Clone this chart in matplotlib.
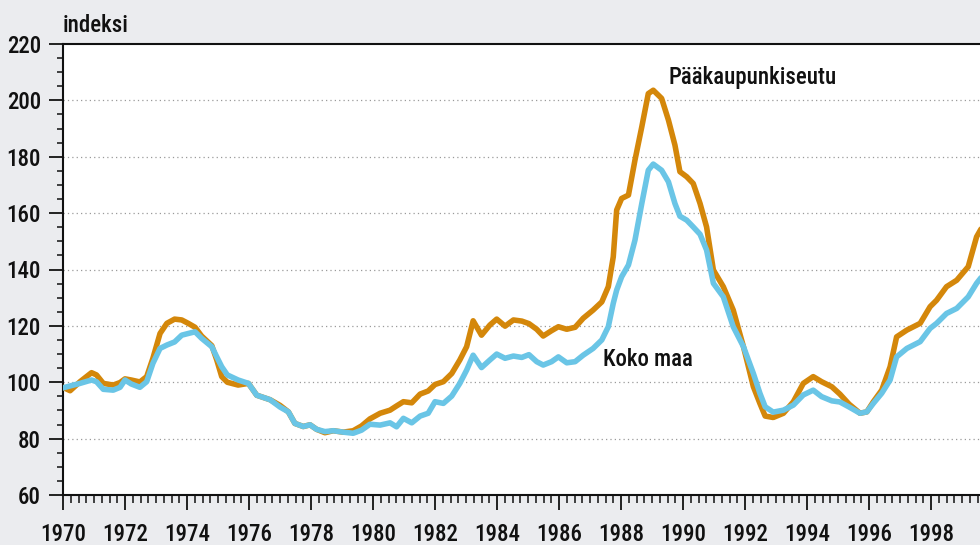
import matplotlib
matplotlib.use("Agg")
from matplotlib import pyplot as plt
from matplotlib import font_manager
from matplotlib.ticker import MultipleLocator

# vuosi (decimal year) and index values, 1970 = 100
vuosi = [1970.00, 1970.23, 1970.55, 1970.92, 1971.08, 1971.30, 1971.62, 1971.84,
         1972.00, 1972.20, 1972.48, 1972.70, 1972.90, 1973.13, 1973.35, 1973.60,
         1973.83, 1974.04, 1974.26, 1974.47, 1974.80, 1974.96, 1975.12, 1975.30,
         1975.65, 1975.98, 1976.25, 1976.68, 1977.00, 1977.27, 1977.48, 1977.75,
         1977.97, 1978.18, 1978.45, 1978.72, 1979.04, 1979.36, 1979.63, 1979.90,
         1980.23, 1980.55, 1980.76, 1980.98, 1981.25, 1981.52, 1981.78, 1982.00,
         1982.27, 1982.54, 1982.80, 1983.02, 1983.23, 1983.50, 1983.77, 1983.99,
         1984.26, 1984.53, 1984.80, 1985.03, 1985.28, 1985.49, 1985.76, 1985.98,
         1986.25, 1986.52, 1986.78, 1987.10, 1987.38, 1987.59, 1987.75, 1987.86,
         1988.02, 1988.24, 1988.45, 1988.67, 1988.88, 1989.04, 1989.31, 1989.53,
         1989.74, 1989.90, 1990.12, 1990.33, 1990.55, 1990.76, 1990.98, 1991.30,
         1991.62, 1991.95, 1992.27, 1992.48, 1992.65, 1992.91, 1993.24, 1993.56,
         1993.88, 1994.20, 1994.47, 1994.80, 1995.06, 1995.36, 1995.71, 1995.93,
         1996.14, 1996.41, 1996.68, 1996.89, 1997.22, 1997.65, 1997.97, 1998.18,
         1998.50, 1998.83, 1999.20, 1999.47, 1999.75]

paakaupunkiseutu = [98.2, 97.0, 100.2, 103.4, 102.6, 99.6, 99.0, 99.9,
                    101.2, 100.8, 100.1, 102.0, 108.5, 117.3, 120.9, 122.4,
                    122.1, 120.9, 119.5, 116.4, 113.0, 107.9, 102.0, 100.0,
                    99.0, 99.6, 95.4, 93.8, 91.8, 89.5, 85.4, 84.3,
                    84.9, 83.3, 82.1, 82.8, 82.3, 82.8, 84.5, 87.0,
                    89.0, 90.1, 91.6, 93.1, 92.7, 95.8, 96.9, 99.2,
                    100.2, 103.1, 107.9, 112.6, 121.8, 116.7, 120.3, 122.4,
                    119.9, 122.1, 121.7, 120.8, 118.8, 116.4, 118.3, 119.7,
                    118.8, 119.5, 122.7, 125.6, 128.5, 133.9, 144.5, 161.1,
                    165.2, 166.4, 178.8, 190.6, 202.4, 203.6, 200.7, 193.0,
                    184.1, 174.7, 172.9, 170.5, 163.4, 155.1, 139.8, 133.9,
                    125.6, 112.6, 98.4, 92.5, 88.0, 87.5, 89.0, 93.1,
                    99.6, 102.0, 100.2, 98.4, 95.8, 92.2, 89.0, 89.5,
                    93.1, 97.2, 105.5, 116.1, 118.5, 120.9, 126.8, 129.1,
                    133.9, 136.2, 141.0, 151.6, 157.0]

koko_maa = [98.0, 98.7, 99.6, 100.8, 100.2, 97.5, 97.2, 98.2,
            100.8, 99.4, 98.2, 100.2, 106.7, 112.0, 113.2, 114.3,
            116.7, 117.3, 117.9, 115.6, 112.6, 109.0, 105.5, 102.6,
            100.8, 99.6, 95.4, 93.8, 91.2, 89.5, 85.4, 84.3,
            84.9, 83.3, 82.5, 82.8, 82.3, 81.9, 83.0, 85.1,
            84.8, 85.6, 84.2, 87.2, 85.6, 88.0, 89.0, 93.1,
            92.5, 95.1, 99.6, 104.3, 109.6, 105.2, 107.9, 110.0,
            108.5, 109.3, 108.8, 109.8, 107.3, 106.1, 107.3, 109.0,
            106.9, 107.3, 109.6, 112.0, 115.0, 119.7, 128.0, 132.7,
            137.4, 141.6, 150.4, 163.4, 175.2, 177.4, 175.2, 171.1,
            163.4, 158.9, 157.5, 155.1, 152.5, 146.9, 135.1, 130.3,
            119.7, 112.6, 103.1, 96.1, 91.3, 89.4, 90.1, 91.9,
            95.5, 97.2, 94.9, 93.4, 93.0, 91.2, 89.0, 89.5,
            92.5, 96.1, 100.8, 109.0, 112.0, 114.4, 119.1, 120.9,
            124.4, 126.2, 130.3, 135.1, 139.0]

bg = "#ebecef"
orange = "#d4870a"
blue = "#6ac5e6"


def narrow_font():
    # look for a condensed/narrow face, the original uses a condensed sans
    prefs = ["liberation sans narrow", "roboto condensed", "noto sans",
             "open sans", "dejavu sans"]
    found = []
    for f in font_manager.fontManager.ttflist:
        fn = f.fname.lower()
        narrow = ("narrow" in fn or "condensed" in fn or "narrow" in f.name.lower()
                  or str(f.stretch) in ("condensed", "semi-condensed", "extra-condensed"))
        if not narrow or f.style != "normal" or "semi" in fn or "extra" in fn:
            continue
        w = f.weight if isinstance(f.weight, int) else 400
        if w > 600:
            continue
        rank = len(prefs)
        for i, p in enumerate(prefs):
            if f.name.lower().startswith(p):
                rank = i
                break
        found.append((rank, abs(w - 500), f.fname))
    if found:
        found.sort()
        return font_manager.FontProperties(fname=found[0][2])
    return font_manager.FontProperties(family="Roboto")


fp = narrow_font()
fsize = 16.5

fig = plt.figure(figsize=(9.8, 5.45), dpi=100, facecolor=bg)
ax = fig.add_axes([63 / 980, 50 / 545, 1 - 63 / 980, 451 / 545])
ax.set_facecolor("white")

ax.plot(vuosi, paakaupunkiseutu, color=orange, lw=4.0, solid_capstyle="round",
        solid_joinstyle="round", zorder=3)
ax.plot(vuosi, koko_maa, color=blue, lw=4.0, solid_capstyle="round",
        solid_joinstyle="round", zorder=4)

ax.set_xlim(1970, 1999.58)
ax.set_ylim(60, 220)

ax.xaxis.set_major_locator(MultipleLocator(2))
ax.xaxis.set_minor_locator(MultipleLocator(0.25))
ax.yaxis.set_major_locator(MultipleLocator(20))
ax.yaxis.set_minor_locator(MultipleLocator(5))

for y in range(80, 220, 20):
    ax.axhline(y, color="#9a9a9a", lw=0.9, linestyle=(0, (1, 2.5)), zorder=1)

ax.tick_params(axis="both", which="major", direction="out", width=1.4,
               color="#222222")
ax.tick_params(axis="x", which="major", length=11, pad=9)
ax.tick_params(axis="y", which="major", length=10, pad=6)
ax.tick_params(axis="x", which="minor", direction="out", length=6, width=1.2,
               color="#222222")
ax.tick_params(axis="y", which="minor", direction="out", length=4.5, width=1.2,
               color="#222222")
for lab in ax.get_xticklabels() + ax.get_yticklabels():
    lab.set_fontproperties(fp)
    lab.set_fontsize(fsize)
    lab.set_color("#111111")

for side in ["left", "bottom", "top"]:
    ax.spines[side].set_color("#111111")
    ax.spines[side].set_linewidth(1.5)
ax.spines["right"].set_visible(False)

ax.text(1989.52, 208, "Pääkaupunkiseutu", fontproperties=fp, fontsize=fsize,
        color="#111111", ha="left", va="center")
ax.text(1987.42, 107.9, "Koko maa", fontproperties=fp, fontsize=fsize,
        color="#111111", ha="left", va="center")
fig.text(63 / 980, 1 - 25 / 545, "indeksi", fontproperties=fp, fontsize=fsize,
         color="#111111", ha="left", va="center")

fig.savefig("out.png", dpi=100, facecolor=bg)
